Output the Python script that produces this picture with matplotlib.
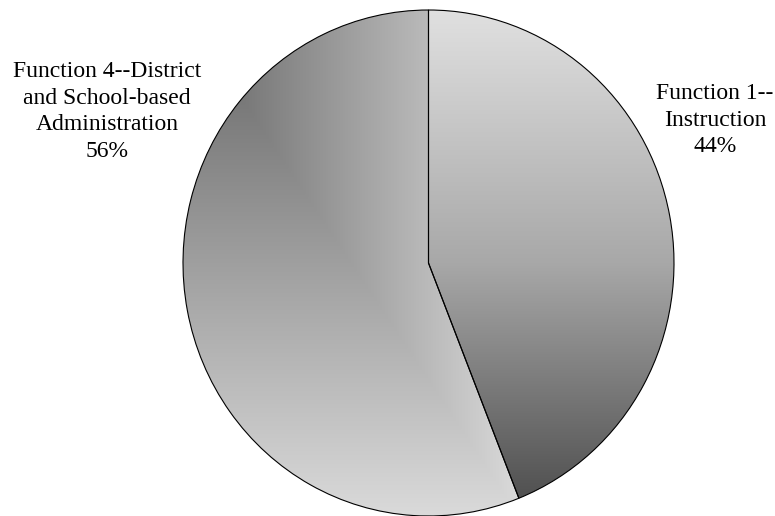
import numpy as np
import matplotlib.pyplot as plt

# data
labels = ["Function 1--\nInstruction", "Function 4--District\nand School-based\nAdministration"]
shares = [44, 56]

W, H = 775, 516
fig = plt.figure(figsize=(W / 100, H / 100), dpi=100)
ax = fig.add_axes([183 / W, 0, 491 / W, 506 / H])

wedges, _ = ax.pie(shares, startangle=90, counterclock=False,
                   wedgeprops=dict(edgecolor="black", linewidth=0.8))
ax.set_aspect("auto")
ax.set_xlim(-1, 1)
ax.set_ylim(-1, 1)
ax.axis("off")

n = 400
xs = np.linspace(-1, 1, n)
ys = np.linspace(1, -1, n)  # top row first
X, Y = np.meshgrid(xs, ys)

# slice 1: vertical gradient, light at top, dark at bottom
t1 = (1 - Y) / 2
g1 = np.interp(t1, [0, 0.5, 1], [224, 168, 74]) / 255

# slice 2: "from corner" gradient anchored at lower right of the slice box
x_end = np.cos(np.radians(90 - 360 * shares[0] / sum(shares)))
u = np.clip((x_end - X) / (x_end + 1), 0, 1)
v = (Y + 1) / 2
t2 = np.minimum(u, v)
g2 = np.interp(t2, [0, 1], [218, 100]) / 255

for w, g in zip(wedges, [g1, g2]):
    w.set_facecolor("none")
    w.set_zorder(3)
    w.set_clip_on(False)
    im = ax.imshow(np.dstack([g, g, g]), extent=(-1, 1, -1, 1),
                   aspect="auto", zorder=1, interpolation="bilinear")
    im.set_clip_path(w)

fnt = dict(family="Liberation Serif", fontsize=17, ha="center", va="center",
           linespacing=1.35)
fig.text(715 / W, 1 - 120 / H, labels[0] + "\n%d%%" % shares[0], **fnt)
fig.text(107 / W, 1 - 111.5 / H, labels[1] + "\n%d%%" % shares[1], **fnt)

fig.savefig("out.png", dpi=100)
